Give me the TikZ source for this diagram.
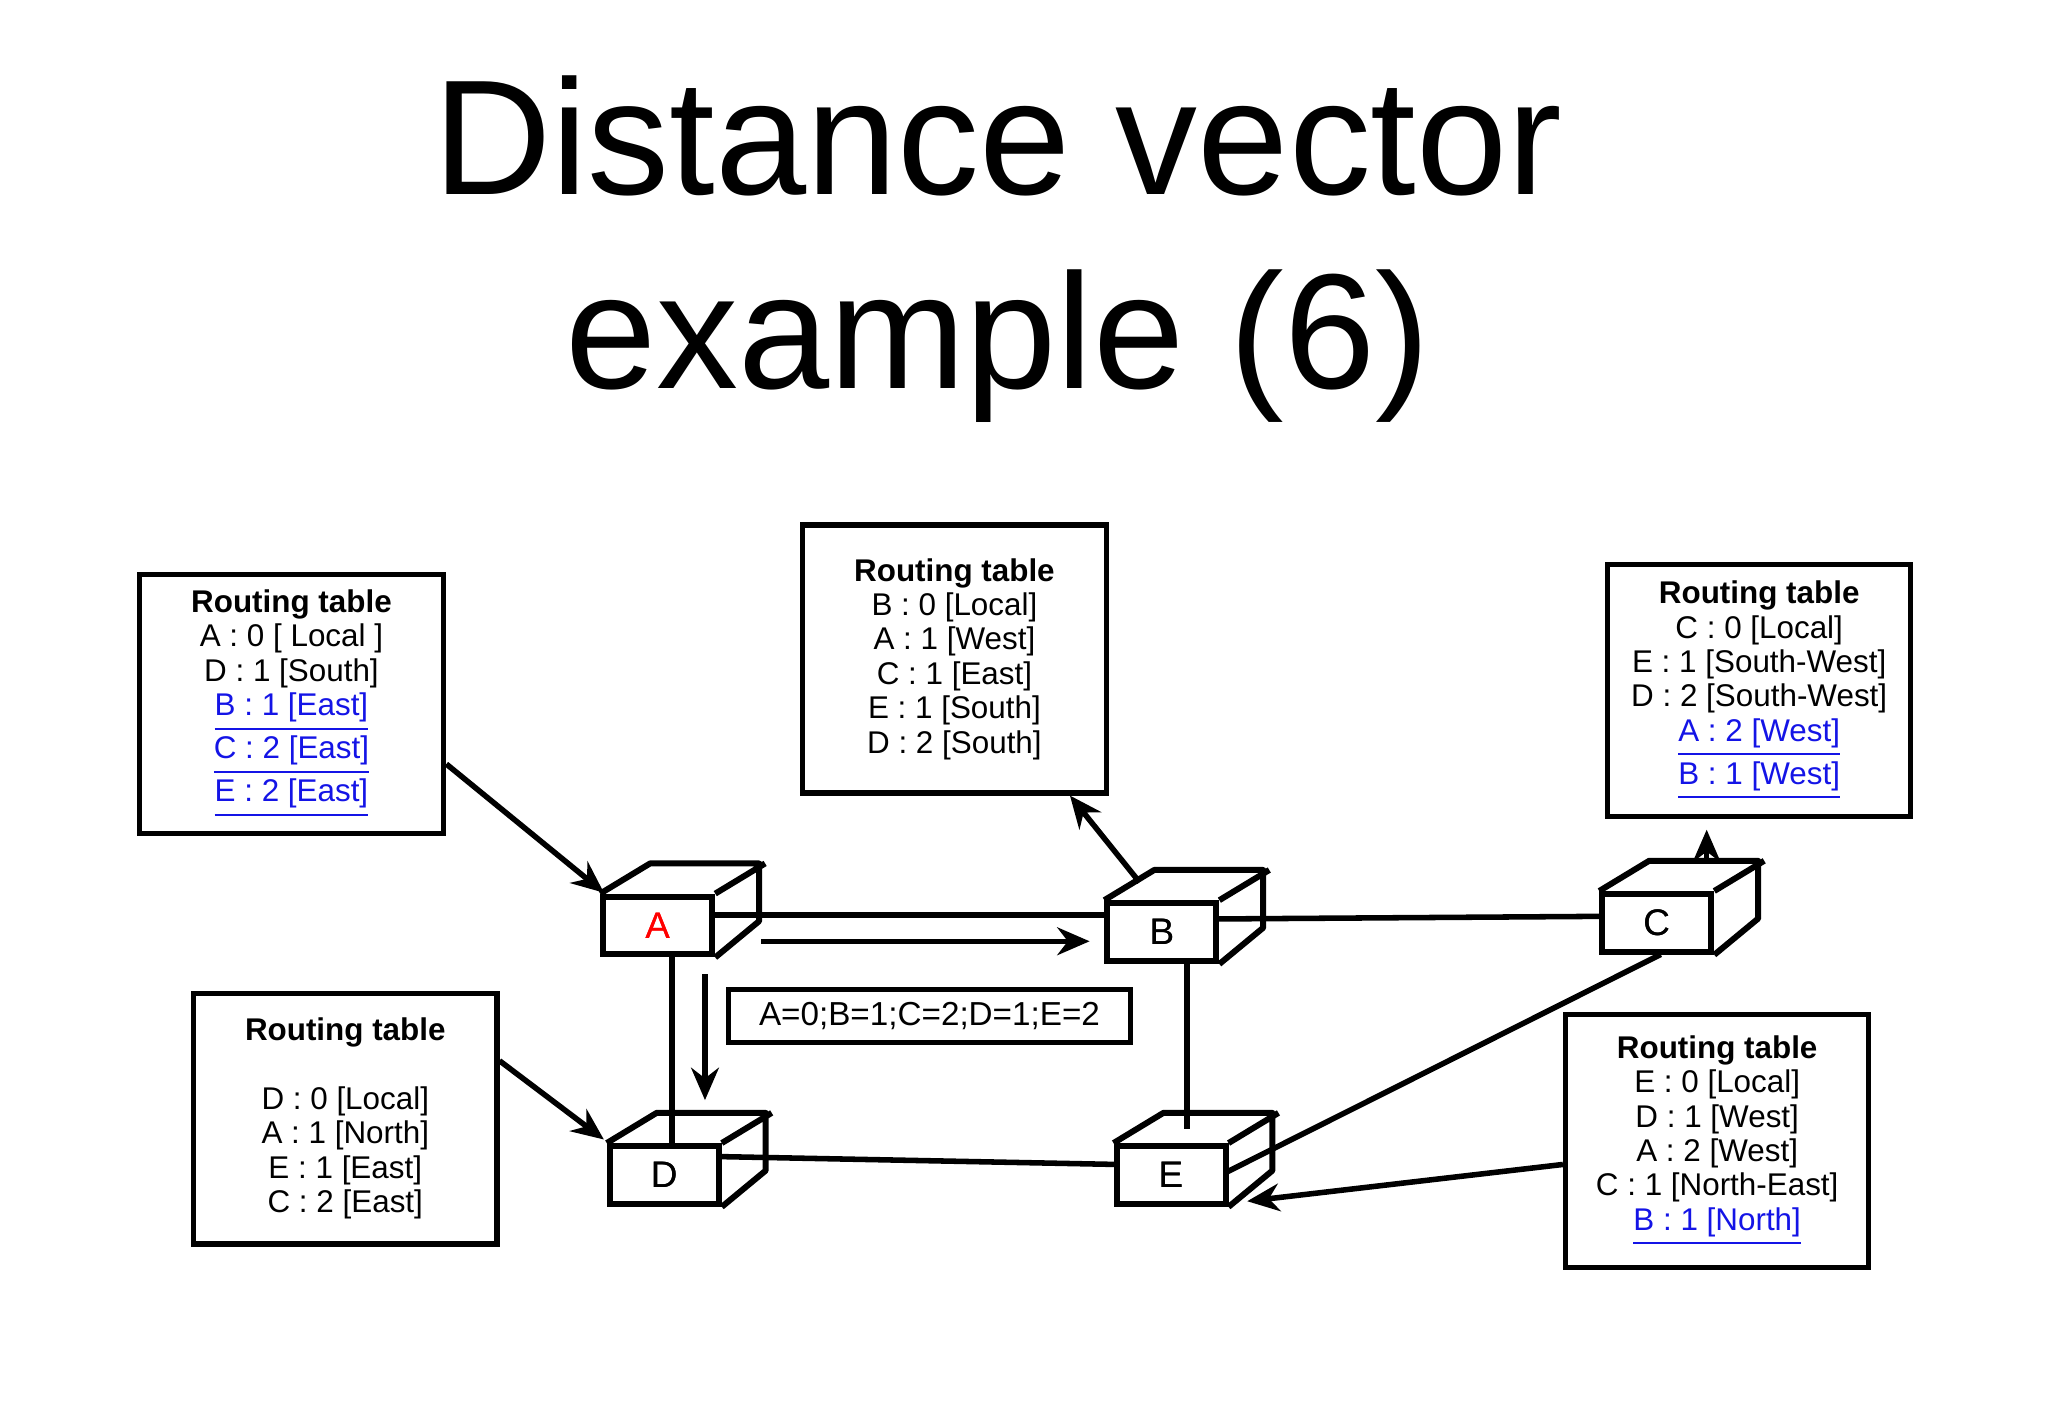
\documentclass[tikz,border=0pt]{standalone}
\usepackage{fontspec}
\setmainfont{Liberation Sans}
\usetikzlibrary{arrows.meta}
\definecolor{lnk}{RGB}{20,20,230}
\newcommand\lk[1]{\textcolor{lnk}{\underline{#1}}}
\begin{document}
\begin{tikzpicture}[x=0.01cm,y=-0.01cm,
  tbl/.style={draw,line width=1.1pt,align=center,font=\fontsize{6.8}{7.45}\selectfont,inner sep=0pt},
  rt/.style={draw,fill=white,line width=1.3pt,minimum width=0.83cm,minimum height=0.44cm,inner sep=0pt,font=\fontsize{8}{9}\selectfont},
  ln/.style={line width=1.2pt},
  ar/.style={line width=1.2pt,-{Stealth[length=7pt,width=6pt]}}]
\useasboundingbox (0,0) rectangle (1560,1080);
\node[font=\fontsize{35.5}{42}\selectfont,align=center] (title) at (760,190) {Distance vector\\example (6)};
% tables
\node[tbl,minimum width=2.32cm,minimum height=1.97cm] (tA) at (222,536) {\textbf{Routing table}\\A : 0 [ Local ]\\D : 1 [South]\\\lk{B : 1 [East]}\\\lk{C : 2 [East]}\\\lk{E : 2 [East]}};
\node[tbl,minimum width=2.32cm,minimum height=2.04cm] (tB) at (727,502) {\textbf{Routing table}\\B : 0 [Local]\\A : 1 [West]\\C : 1 [East]\\E : 1 [South]\\D : 2 [South]};
\node[tbl,minimum width=2.31cm,minimum height=1.92cm] (tC) at (1340,526) {\textbf{Routing table}\\C : 0 [Local]\\E : 1 [South-West]\\D : 2 [South-West]\\\lk{A : 2 [West]}\\\lk{B : 1 [West]}};
\node[tbl,minimum width=2.31cm,minimum height=1.91cm] (tD) at (263,852) {\textbf{Routing table}\\[7.45pt]D : 0 [Local]\\A : 1 [North]\\E : 1 [East]\\C : 2 [East]};
\node[tbl,minimum width=2.31cm,minimum height=1.93cm] (tE) at (1308,869) {\textbf{Routing table}\\E : 0 [Local]\\D : 1 [West]\\A : 2 [West]\\C : 1 [North-East]\\\lk{B : 1 [North]}};
\node[tbl,minimum width=3.06cm,minimum height=0.40cm,font=\fontsize{7.2}{8}\selectfont] (msg) at (708,774) {A=0;B=1;C=2;D=1;E=2};
% routers
\newcommand\rtr[5]{%
  \node[rt] (#1) at (#2,#3) {#4};
  \draw[line width=1.3pt,line join=round] (#1.north west) -- ++(38,-23) -- ++(83,0) -- ++(0,44) -- (#1.south east)
    (#1.north east) -- ++(38,-23);
  \node[font=\fontsize{8}{9}\selectfont,text=#5] at (#1) {#4};}
% links first
\coordinate (a0) at (501,705);
\draw[ln] (543,697) -- (843,697);
\draw[ln] (927,700) -- (1221,698);
\draw[ln] (512,727) -- (512,874);
\draw[ln] (904,732) -- (904,860);
\draw[ln] (548,881) -- (851,887);
\draw[ln] (1265,727) -- (934,893);
\rtr{A}{501}{705}{\textcolor{red}{A}}{red}
\rtr{B}{885}{710}{B}{black}
\rtr{C}{1262}{703}{C}{black}
\rtr{D}{506}{895}{D}{black}
\rtr{E}{892}{895}{E}{black}
% arrows
\draw[ar] (tA.east |- 0,582) -- (460,680);
\draw[ar] (868,672) -- (815,606);
\draw[ar] (1300,658) -- (1300,632);
\draw[ar] (tD.east |- 0,808) -- (460,868);
\draw[ar] (tE.west |- 0,887) -- (950,915);
\draw[ar] (580,717) -- (830,717);
\draw[ar] (537,742) -- (537,838);
\end{tikzpicture}
\end{document}
